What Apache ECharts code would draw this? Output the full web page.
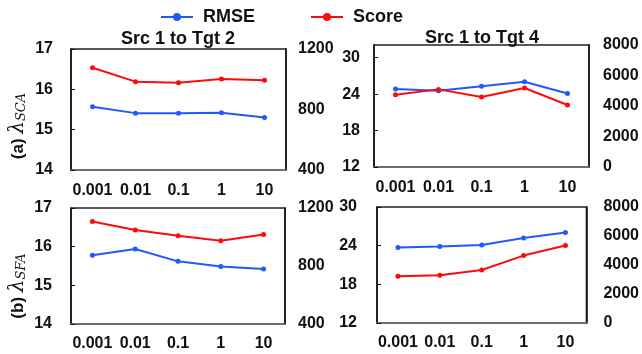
<!DOCTYPE html>
<html>
<head>
<meta charset="utf-8">
<script src="https://cdn.jsdelivr.net/npm/echarts@6/dist/echarts.min.js"></script>
<style>
html,body{margin:0;padding:0;background:#fff;}
#chart{width:642px;height:354px;}
</style>
</head>
<body>
<div id="chart"></div>
<script>
// ---- data ----
var categories = ['0.001', '0.01', '0.1', '1', '10'];
var rmseSCA_T2 = [15.57, 15.41, 15.41, 15.42, 15.30];
var scoreSCA_T2 = [1076, 984, 977, 1002, 993];
var rmseSCA_T4 = [24.85, 24.57, 25.3, 26.05, 24.1];
var scoreSCA_T4 = [4740, 5090, 4590, 5180, 4065];
var rmseSFA_T2 = [15.78, 15.94, 15.62, 15.49, 15.42];
var scoreSFA_T2 = [1107, 1048, 1008, 974, 1017];
var rmseSFA_T4 = [23.7, 23.86, 24.12, 25.2, 26.04];
var scoreSFA_T4 = [3220, 3290, 3655, 4650, 5340];
var titles = ['Src 1 to Tgt 2', 'Src 1 to Tgt 4'];
var rowLabels = [['(a) ', 'SCA'], ['(b) ', 'SFA']];
// axis ranges [min, max, interval]
var rmseRangeT2 = [14, 17, 1];
var scoreRangeT2 = [400, 1200, 400];
var rmseRangeT4top = [12, 32.1, 6];
var rmseRangeT4bot = [12, 30, 6];
var scoreRangeT4 = [0, 8000, 2000];

var FONT = '"Liberation Sans", Arial, sans-serif';
var BLUE = '#2258ff';
var RED = '#ff0a0a';
var lbl = function (margin) {
  return { fontFamily: FONT, fontWeight: 'bold', fontSize: 16, color: '#111', margin: margin, showMaxLabel: true,
    formatter: function (v) { return String(v); } };
};

function xAx(grid, margin) {
  return {
    type: 'category', gridIndex: grid, data: categories, boundaryGap: true,
    axisLine: { show: true, lineStyle: { color: '#777', width: 1.5 } },
    axisTick: { show: false },
    axisLabel: { fontFamily: FONT, fontWeight: 'bold', fontSize: 16, color: '#111', margin: margin, interval: 0 },
    splitLine: { show: false }
  };
}
function yAx(grid, pos, r, margin, hideMax) {
  var a = {
    type: 'value', gridIndex: grid, position: pos, min: r[0], max: r[1], interval: r[2],
    axisLine: { show: true, lineStyle: { color: '#111', width: 1.5 } },
    axisTick: { show: pos === 'left', inside: true, length: 4, lineStyle: { color: '#111', width: 1 } },
    axisLabel: lbl(margin),
    splitLine: { show: false }
  };
  if (hideMax) a.axisLabel.showMaxLabel = false;
  return a;
}
function line(name, xi, yi, data, color) {
  return {
    name: name, type: 'line', xAxisIndex: xi, yAxisIndex: yi, data: data,
    symbol: 'circle', symbolSize: 5, showSymbol: true,
    lineStyle: { color: color, width: 2 },
    itemStyle: { color: color },
    animation: false
  };
}

var chart = echarts.init(document.getElementById('chart'), null, { renderer: 'canvas' });
var rich = {
  p: { fontFamily: FONT, fontWeight: 'bold', fontSize: 17, fill: '#111', color: '#111' },
  l: { fontFamily: '"DejaVu Serif", serif', fontStyle: 'italic', fontSize: 20, fill: '#111', color: '#111' },
  s: { fontFamily: '"DejaVu Serif", serif', fontStyle: 'italic', fontSize: 13, fill: '#111', color: '#111', verticalAlign: 'bottom', padding: [8, 0, 0, 0] }
};
function rowName(i, x, y) {
  return {
    type: 'text', x: x, y: y, rotation: Math.PI / 2,
    style: {
      text: '{p|' + rowLabels[i][0] + '}{l|λ}{s|' + rowLabels[i][1] + '}',
      rich: rich, align: 'center', verticalAlign: 'middle',
      textAlign: 'center', textVerticalAlign: 'middle'
    }
  };
}

chart.setOption({
  backgroundColor: '#fff',
  animation: false,
  legend: {
    data: ['RMSE', 'Score'], left: 155, top: 3, itemWidth: 32, itemHeight: 10, itemGap: 55,
    textStyle: { fontFamily: FONT, fontWeight: 'bold', fontSize: 18, color: '#111', padding: [0, 0, 0, 5] }
  },
  title: [
    { text: titles[0], left: 178, top: 30, textAlign: 'center', padding: 0,
      textStyle: { fontFamily: FONT, fontWeight: 'bold', fontSize: 18, color: '#111' } },
    { text: titles[1], left: 482, top: 29, textAlign: 'center', padding: 0,
      textStyle: { fontFamily: FONT, fontWeight: 'bold', fontSize: 18, color: '#111' } }
  ],
  grid: [
    { left: 71, top: 49, width: 215, height: 121, show: true, borderColor: '#222', borderWidth: 1.5, containLabel: false },
    { left: 374, top: 45, width: 215, height: 122, show: true, borderColor: '#222', borderWidth: 1.5, containLabel: false },
    { left: 71, top: 208, width: 214, height: 116, show: true, borderColor: '#222', borderWidth: 1.5, containLabel: false },
    { left: 377, top: 207, width: 212, height: 116, show: true, borderColor: '#222', borderWidth: 1.5, containLabel: false }
  ],
  xAxis: [xAx(0, 13), xAx(1, 13), xAx(2, 12), xAx(3, 12)],
  yAxis: [
    yAx(0, 'left', rmseRangeT2, 18), yAx(0, 'right', scoreRangeT2, 12),
    yAx(1, 'left', rmseRangeT4top, 14, true), yAx(1, 'right', scoreRangeT4, 14),
    yAx(2, 'left', rmseRangeT2, 19), yAx(2, 'right', scoreRangeT2, 13),
    yAx(3, 'left', rmseRangeT4bot, 20), yAx(3, 'right', scoreRangeT4, 17)
  ],
  graphic: [rowName(0, 18, 126), rowName(1, 18, 286)],
  series: [
    line('RMSE', 0, 0, rmseSCA_T2, BLUE), line('Score', 0, 1, scoreSCA_T2, RED),
    line('RMSE', 1, 2, rmseSCA_T4, BLUE), line('Score', 1, 3, scoreSCA_T4, RED),
    line('RMSE', 2, 4, rmseSFA_T2, BLUE), line('Score', 2, 5, scoreSFA_T2, RED),
    line('RMSE', 3, 6, rmseSFA_T4, BLUE), line('Score', 3, 7, scoreSFA_T4, RED)
  ]
});
</script>
</body>
</html>
